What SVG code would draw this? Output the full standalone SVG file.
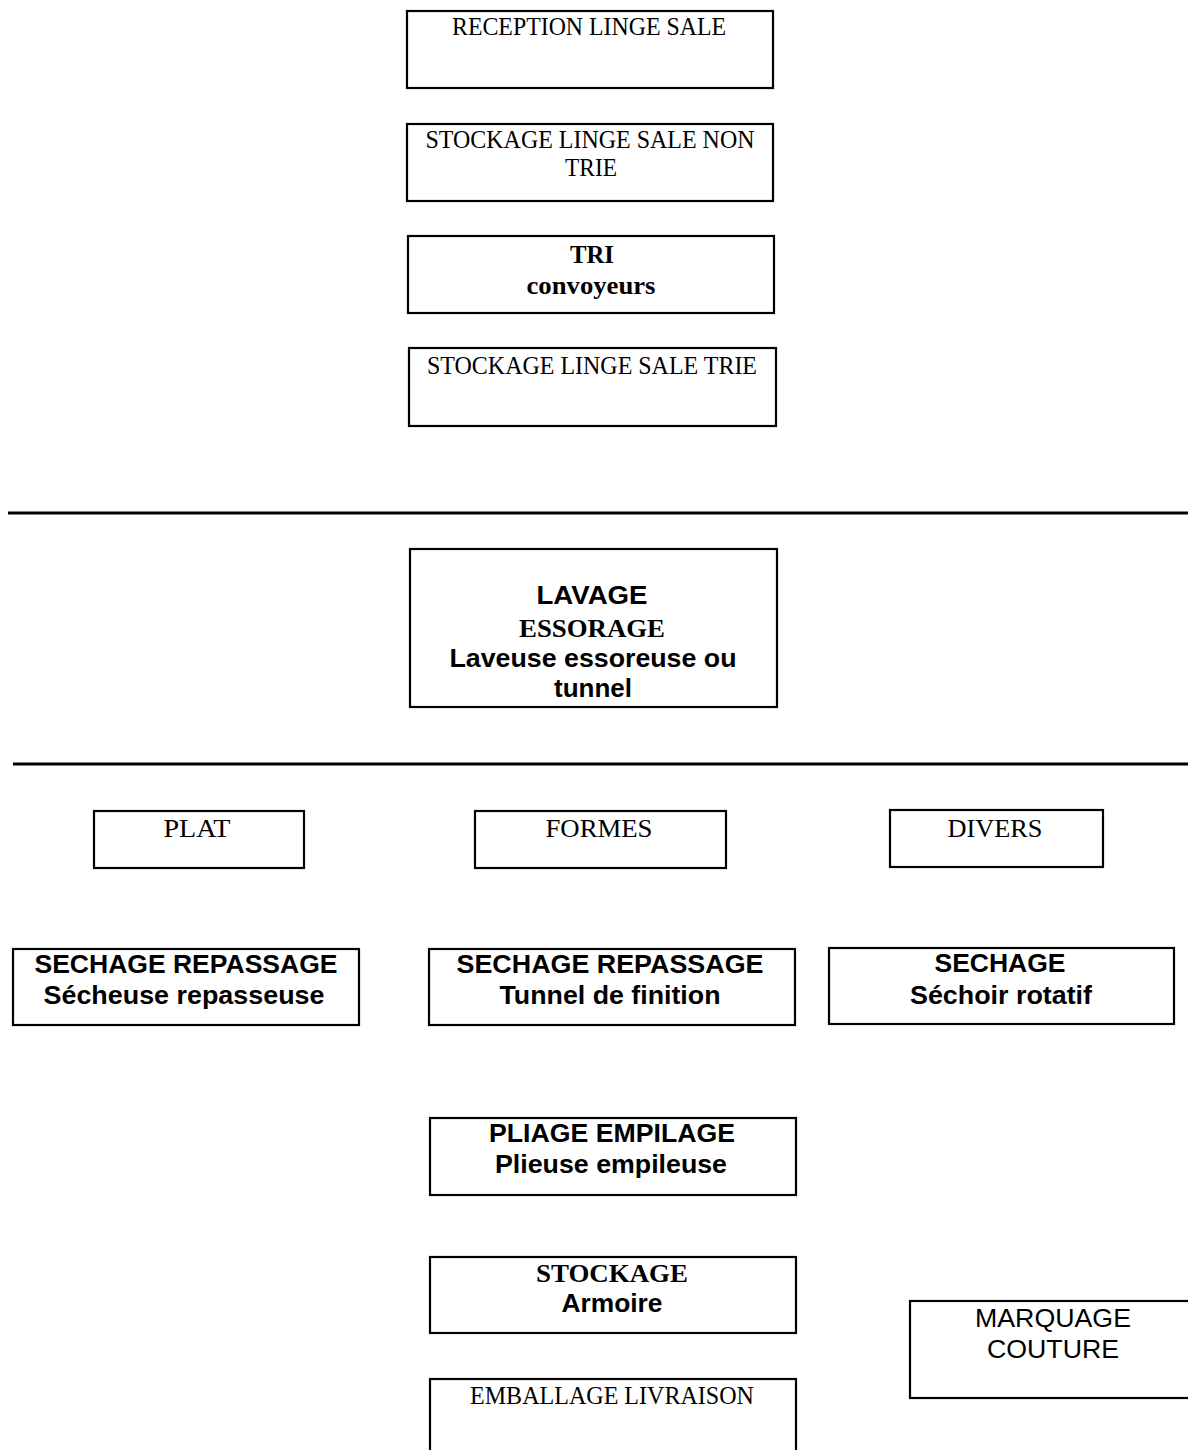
<svg xmlns="http://www.w3.org/2000/svg" width="1188" height="1450" viewBox="0 0 1188 1450">
<style>
.box{fill:#fff;stroke:#000;stroke-width:2.2}
.sep{stroke:#000;stroke-width:3}
.t{font-family:"Liberation Serif","Times New Roman",serif;font-size:25px;fill:#000;text-anchor:middle}
.tb{font-family:"Liberation Serif","Times New Roman",serif;font-size:26px;font-weight:bold;fill:#000;text-anchor:middle}
.a{font-family:"Liberation Sans",Arial,sans-serif;font-size:25px;fill:#000;text-anchor:middle}
.ab{font-family:"Liberation Sans",Arial,sans-serif;font-size:25px;font-weight:bold;fill:#000;text-anchor:middle}
</style>
<rect width="1188" height="1450" fill="#fff"/>
<g id="connectors">
<line class="sep" x1="8" y1="513" x2="1188" y2="513"/>
<line class="sep" x1="13" y1="764" x2="1188" y2="764"/>
</g>
<g id="reception"><rect class="box" x="407" y="11" width="366" height="77"/>
<text class="t" x="589" y="35" textLength="274" lengthAdjust="spacingAndGlyphs">RECEPTION LINGE SALE</text></g>
<g id="stockage-non-trie"><rect class="box" x="407" y="124" width="366" height="77"/>
<text class="t" x="590" y="148" textLength="329" lengthAdjust="spacingAndGlyphs">STOCKAGE LINGE SALE NON</text>
<text class="t" x="591" y="176" textLength="52" lengthAdjust="spacingAndGlyphs">TRIE</text></g>
<g id="tri"><rect class="box" x="408" y="236" width="366" height="77"/>
<text class="tb" x="592" y="263" textLength="44" lengthAdjust="spacingAndGlyphs">TRI</text>
<text class="tb" x="591" y="294" textLength="129" lengthAdjust="spacingAndGlyphs">convoyeurs</text></g>
<g id="stockage-trie"><rect class="box" x="409" y="348" width="367" height="78"/>
<text class="t" x="592" y="374" textLength="330" lengthAdjust="spacingAndGlyphs">STOCKAGE LINGE SALE TRIE</text></g>
<g id="lavage"><rect class="box" x="410" y="549" width="367" height="158"/>
<text class="ab" x="592" y="604" textLength="111" lengthAdjust="spacingAndGlyphs">LAVAGE</text>
<text class="tb" x="592" y="637" textLength="146" lengthAdjust="spacingAndGlyphs">ESSORAGE</text>
<text class="ab" x="593" y="667" textLength="287" lengthAdjust="spacingAndGlyphs">Laveuse essoreuse ou</text>
<text class="ab" x="593" y="697" textLength="78" lengthAdjust="spacingAndGlyphs">tunnel</text></g>
<g id="plat"><rect class="box" x="94" y="811" width="210" height="57"/>
<text class="t" x="197" y="837" textLength="67" lengthAdjust="spacingAndGlyphs">PLAT</text></g>
<g id="formes"><rect class="box" x="475" y="811" width="251" height="57"/>
<text class="t" x="599" y="837" textLength="107" lengthAdjust="spacingAndGlyphs">FORMES</text></g>
<g id="divers"><rect class="box" x="890" y="810" width="213" height="57"/>
<text class="t" x="995" y="837" textLength="95" lengthAdjust="spacingAndGlyphs">DIVERS</text></g>
<g id="sechage-plat"><rect class="box" x="13" y="949" width="346" height="76"/>
<text class="ab" x="186" y="973" textLength="303" lengthAdjust="spacingAndGlyphs">SECHAGE REPASSAGE</text>
<text class="ab" x="184" y="1004" textLength="281" lengthAdjust="spacingAndGlyphs">Sécheuse repasseuse</text></g>
<g id="sechage-formes"><rect class="box" x="429" y="949" width="366" height="76"/>
<text class="ab" x="610" y="973" textLength="307" lengthAdjust="spacingAndGlyphs">SECHAGE REPASSAGE</text>
<text class="ab" x="610" y="1004" textLength="221" lengthAdjust="spacingAndGlyphs">Tunnel de finition</text></g>
<g id="sechage-divers"><rect class="box" x="829" y="948" width="345" height="76"/>
<text class="ab" x="1000" y="972" textLength="131" lengthAdjust="spacingAndGlyphs">SECHAGE</text>
<text class="ab" x="1001" y="1004" textLength="182" lengthAdjust="spacingAndGlyphs">Séchoir rotatif</text></g>
<g id="pliage"><rect class="box" x="430" y="1118" width="366" height="77"/>
<text class="ab" x="612" y="1142" textLength="246" lengthAdjust="spacingAndGlyphs">PLIAGE EMPILAGE</text>
<text class="ab" x="611" y="1173" textLength="232" lengthAdjust="spacingAndGlyphs">Plieuse empileuse</text></g>
<g id="stockage"><rect class="box" x="430" y="1257" width="366" height="76"/>
<text class="tb" x="612" y="1282" textLength="152" lengthAdjust="spacingAndGlyphs">STOCKAGE</text>
<text class="ab" x="612" y="1312" textLength="101" lengthAdjust="spacingAndGlyphs">Armoire</text></g>
<g id="marquage"><rect class="box" x="910" y="1301" width="290" height="97"/>
<text class="a" x="1053" y="1327" textLength="156" lengthAdjust="spacingAndGlyphs">MARQUAGE</text>
<text class="a" x="1053" y="1358" textLength="132" lengthAdjust="spacingAndGlyphs">COUTURE</text></g>
<g id="emballage"><rect class="box" x="430" y="1379" width="366" height="80"/>
<text class="t" x="612" y="1404" textLength="284" lengthAdjust="spacingAndGlyphs">EMBALLAGE LIVRAISON</text></g>
</svg>
